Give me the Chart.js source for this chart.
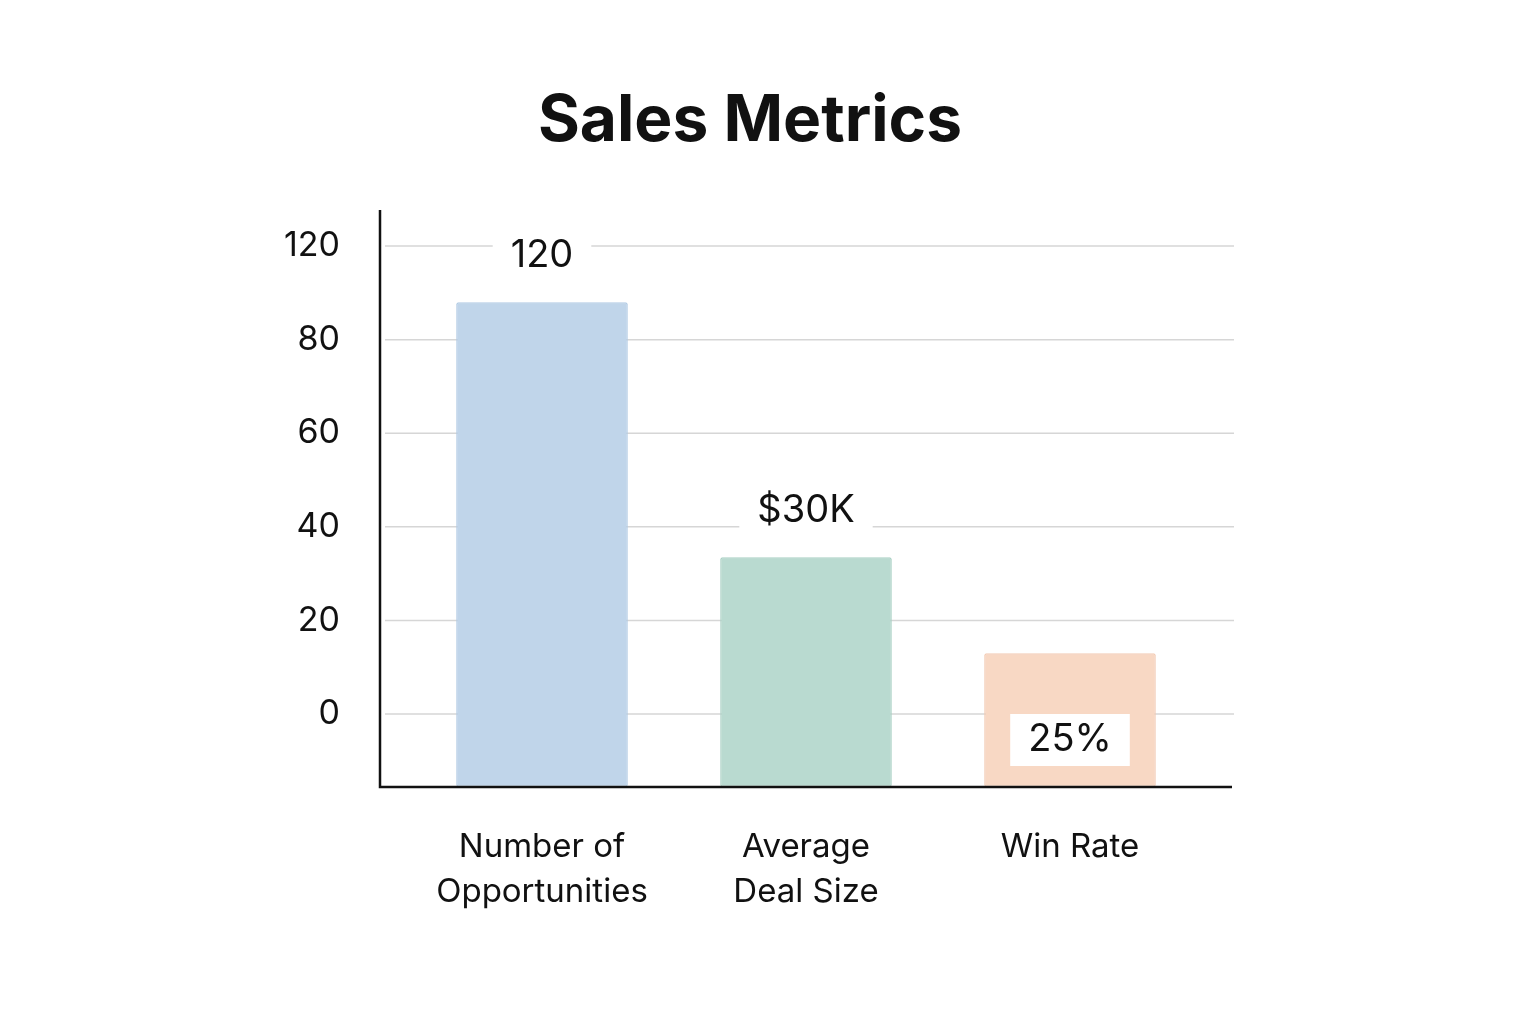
<!DOCTYPE html>
<html><head><meta charset="utf-8">
<script src="https://cdn.jsdelivr.net/npm/chart.js@4"></script>
<style>html,body{margin:0;background:#fff}#w{width:1536px;height:1024px}</style>
</head><body><div id="w"><canvas id="c"></canvas></div>
<script>
const categories = [["Number of","Opportunities"],["Average","Deal Size"],["Win Rate"]];
const barValues = [88, 33.5, 13];
const valueLabels = ["120","$30K","25%"];
const tickPositions = [0,20,40,60,80,100];
const tickLabels = ["0","20","40","60","80","120"];
const axisMin = -15.6, axisMax = 107.7;
const colors = ["#c0d5ea","#b9dad0","#f8d8c4"];
const borders = ["#b2cbe4","#abd1c5","#f3ccb5"];
const FONT = "Inter, 'Noto Sans', sans-serif";

const deco = {
  id:'deco',
  beforeDatasetsDraw(ch){
    const c=ch.ctx, y=ch.scales.y, a=ch.chartArea;
    c.save();
    c.strokeStyle='#d6d6d6'; c.lineWidth=1.5;
    tickPositions.forEach(v=>{const p=y.getPixelForValue(v);c.beginPath();c.moveTo(385,p);c.lineTo(1234,p);c.stroke();});
    c.restore();
  },
  afterDatasetsDraw(ch){
    const c=ch.ctx, y=ch.scales.y, a=ch.chartArea;
    c.save();
    c.strokeStyle='#111'; c.lineWidth=2.5;
    c.beginPath(); c.moveTo(380,a.top); c.lineTo(380,a.bottom); c.lineTo(1232,a.bottom); c.stroke();
    c.font='38px '+FONT; c.textAlign='center'; c.textBaseline='middle';
    const meta=ch.getDatasetMeta(0);
    meta.data.forEach((b,i)=>{
      const ty=b.y-47, w=c.measureText(valueLabels[i]).width+36;
      c.fillStyle='#fff'; c.fillRect(b.x-w/2,ty-26,w,52);
      c.fillStyle='#111'; c.fillText(valueLabels[i],b.x,ty);
    });
    c.font='bold 64px '+FONT; c.fillText('Sales Metrics',750,122);
    c.restore();
  }
};

new Chart(document.getElementById('c'),{
  type:'bar',
  data:{labels:categories,datasets:[{data:barValues.map(v=>[axisMin,v]),backgroundColor:colors,borderColor:borders,borderWidth:1.5,borderSkipped:false,borderRadius:2,barPercentage:0.65,categoryPercentage:1}]},
  options:{
    responsive:true,maintainAspectRatio:false,animation:false,devicePixelRatio:1,
    layout:{padding:{left:0,right:334,top:210,bottom:0}},
    plugins:{legend:{display:false},tooltip:{enabled:false},title:{display:false}},
    scales:{
      x:{grid:{display:false},border:{display:false},
        afterFit(s){s.height=237;},
        ticks:{color:'#111',font:{family:FONT,size:33,lineHeight:1.35},padding:30,maxRotation:0}},
      y:{min:axisMin,max:axisMax,grid:{display:false},border:{display:false},
        afterFit(s){s.width=410;},
        afterBuildTicks(s){s.ticks=tickPositions.map(v=>({value:v}));},
        ticks:{color:'#111',font:{family:FONT,size:34},padding:62,
          callback:(v)=>{const i=tickPositions.indexOf(v);return i>=0?tickLabels[i]:'';}}}
    }
  },
  plugins:[deco]
});
</script></body></html>
